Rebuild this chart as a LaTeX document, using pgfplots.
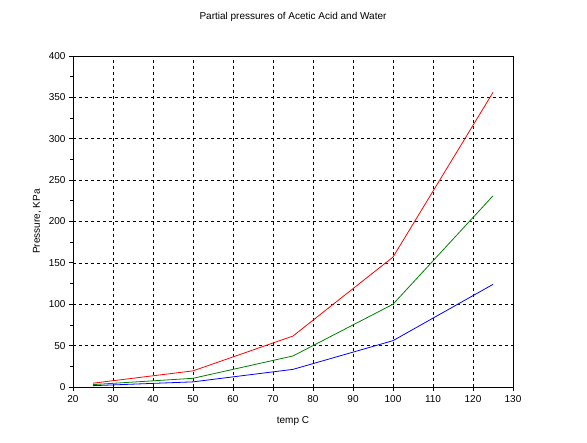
\documentclass[border=0pt]{standalone}
\usepackage{fontspec}
\setmainfont{Liberation Sans}
\usepackage{pgfplots}
\pgfplotsset{compat=1.18}

\begin{document}
\begin{tikzpicture}
\path[use as bounding box] (0,0) rectangle (587pt,443pt);
\begin{axis}[
    at={(73pt,56pt)}, anchor=south west,
    scale only axis,
    width=440pt, height=331pt,
    xmin=20, xmax=130,
    ymin=0, ymax=400,
    xtick={20,30,...,130},
    ytick={0,50,...,400},
    minor ytick={25,75,...,375},
    tick align=outside,
    xtick pos=bottom, ytick pos=left,
    major tick length=4pt, minor tick length=3pt,
    every tick/.style={black, line width=0.8pt},
    axis line style={line width=0.9pt},
    grid=major,
    major grid style={black, dash pattern=on 3pt off 3pt, line width=0.7pt},
    font=\fontsize{10}{12}\selectfont,
    /pgf/number format/assume math mode=true,
    title={Partial pressures of Acetic Acid and Water},
    title style={at={(0.5,1)}, anchor=center, yshift=33pt},
    xlabel={temp C},
    xlabel style={at={(0.5,0)}, anchor=center, yshift=-34pt},
    ylabel={Pressure, KPa},
    ylabel style={at={(0,0.5)}, anchor=center, yshift=36pt},
    xticklabel style={yshift=-1pt},
]
% total
\addplot[red, line width=0.8pt] coordinates {
    (25,4.6) (50,19.5) (75,61.6) (100,157) (125,356)
};
% water
\addplot[green!50!black, line width=0.8pt] coordinates {
    (25,2.9) (50,10.5) (75,37.5) (100,100) (125,231)
};
% acetic acid
\addplot[blue, line width=0.8pt] coordinates {
    (25,1.6) (50,6.2) (75,21.3) (100,56) (125,124)
};
\end{axis}
\end{tikzpicture}
\end{document}
